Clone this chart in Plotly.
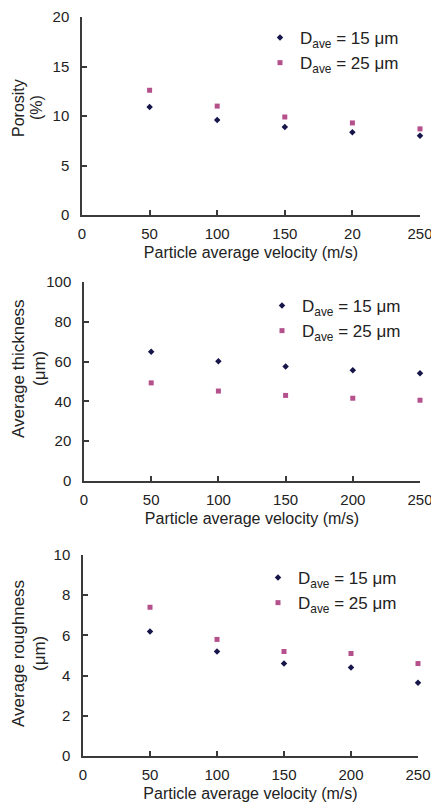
import plotly.graph_objects as go

# Daten
velocity = [50, 100, 150, 200, 250]

porosity_15 = [10.9, 9.6, 8.9, 8.35, 8.0]
porosity_25 = [12.6, 11.0, 9.9, 9.3, 8.7]

thickness_15 = [64.9, 60.2, 57.5, 55.7, 54.2]
thickness_25 = [49.3, 45.2, 43.0, 41.6, 40.6]

roughness_15 = [6.2, 5.2, 4.6, 4.4, 3.65]
roughness_25 = [7.4, 5.8, 5.2, 5.1, 4.6]

x_tickvals = [0, 50, 100, 150, 200, 250]
x_ticktext_top = ["0", "50", "100", "150", "20", "250"]
x_ticktext = ["0", "50", "100", "150", "200", "250"]

NAME_15 = "D<sub>ave</sub> = 15 μm"
NAME_25 = "D<sub>ave</sub> = 25 μm"

COLOR_15 = "#16164a"
COLOR_25 = "#b4508c"
AXIS_COLOR = "#3a3a3a"
TEXT_COLOR = "#222"
FONT = "Liberation Sans, Arial, sans-serif"

W, H = 431, 808


def px_x(p):
    return p / W


def px_y(p):
    return 1 - p / H


# Panels: Pixelpositionen der Achsen (x0, x1) und (y unten, y oben)
panels = [
    dict(x=(82, 420), y=(215, 17), yrange=[0, 20], ytick=5,
         ytitle=("Porosity", "(%)"), ytitle_pos=(18, 36, 108), ytitle_size=16,
         ticktext=x_ticktext_top,
         d15=porosity_15, d25=porosity_25, legend_top=20, legend_x=260),
    dict(x=(84, 420), y=(481, 282), yrange=[0, 100], ytick=20,
         ytitle=("Average thickness", "(μm)"), ytitle_pos=(18, 39, 369), ytitle_size=17,
         ticktext=x_ticktext,
         d15=thickness_15, d25=thickness_25, legend_top=288, legend_x=262),
    dict(x=(83, 418), y=(756, 555), yrange=[0, 10], ytick=2,
         ytitle=("Average roughness", "(μm)"), ytitle_pos=(18, 39, 654), ytitle_size=17,
         ticktext=x_ticktext,
         d15=roughness_15, d25=roughness_25, legend_top=560, legend_x=258),
]

fig = go.Figure()

for i, p in enumerate(panels, start=1):
    sfx = "" if i == 1 else str(i)
    legend_name = "legend" if i == 1 else f"legend{i}"

    fig.add_trace(
        go.Scatter(
            x=velocity,
            y=p["d15"],
            mode="markers",
            name=NAME_15,
            marker=dict(symbol="diamond", size=5, color=COLOR_15),
            xaxis=f"x{sfx}",
            yaxis=f"y{sfx}",
            legend=legend_name,
            cliponaxis=False,
        )
    )
    fig.add_trace(
        go.Scatter(
            x=velocity,
            y=p["d25"],
            mode="markers",
            name=NAME_25,
            marker=dict(symbol="square", size=5, color=COLOR_25),
            xaxis=f"x{sfx}",
            yaxis=f"y{sfx}",
            legend=legend_name,
            cliponaxis=False,
        )
    )

    fig.update_layout(
        {
            f"xaxis{sfx}": dict(
                domain=[px_x(p["x"][0]), px_x(p["x"][1])],
                anchor=f"y{sfx}",
                range=[0, 250],
                tickvals=x_tickvals,
                ticktext=p["ticktext"],
                ticks="inside",
                ticklen=5,
                tickwidth=1.5,
                tickcolor=AXIS_COLOR,
                showline=True,
                linecolor=AXIS_COLOR,
                linewidth=1.5,
                showgrid=False,
                zeroline=False,
                automargin=False,
                ticklabeloverflow="allow",
                tickfont=dict(size=15, color=TEXT_COLOR),
                ticklabelstandoff=4,
                title=dict(
                    text="Particle average velocity (m/s)",
                    font=dict(size=16, color=TEXT_COLOR),
                    standoff=6,
                ),
            ),
            f"yaxis{sfx}": dict(
                domain=[px_y(p["y"][0]), px_y(p["y"][1])],
                anchor=f"x{sfx}",
                range=p["yrange"],
                dtick=p["ytick"],
                ticks="inside",
                ticklen=5,
                tickwidth=1.5,
                tickcolor=AXIS_COLOR,
                showline=True,
                linecolor=AXIS_COLOR,
                linewidth=1.5,
                showgrid=False,
                zeroline=False,
                automargin=False,
                tickfont=dict(size=15, color=TEXT_COLOR),
                ticklabelstandoff=8,
            ),
            legend_name: dict(
                x=px_x(p["legend_x"]),
                y=px_y(p["legend_top"]),
                xanchor="left",
                yanchor="top",
                bgcolor="rgba(0,0,0,0)",
                font=dict(size=17, color=TEXT_COLOR),
                tracegroupgap=0,
                itemwidth=30,
            ),
        }
    )

    # y-Achsentitel: zwei Zeilen, eng gesetzt wie im Original
    x_main, x_unit, y_mid = p["ytitle_pos"]
    for text, xpos in zip(p["ytitle"], (x_main, x_unit)):
        fig.add_annotation(
            text=text,
            xref="paper",
            yref="paper",
            x=px_x(xpos),
            y=px_y(y_mid),
            xanchor="center",
            yanchor="middle",
            textangle=-90,
            showarrow=False,
            font=dict(size=p["ytitle_size"], color=TEXT_COLOR),
        )

fig.update_layout(
    width=W,
    height=H,
    margin=dict(l=0, r=0, t=0, b=0, autoexpand=False),
    paper_bgcolor="white",
    plot_bgcolor="white",
    font=dict(family=FONT, color=TEXT_COLOR),
    showlegend=True,
)

# Body-Rand entfernen, damit die Grafik genau das Fenster fuellt
fig.write_html(
    "out.html",
    config={"displayModeBar": False},
    post_script="document.body.style.margin='0';",
)
